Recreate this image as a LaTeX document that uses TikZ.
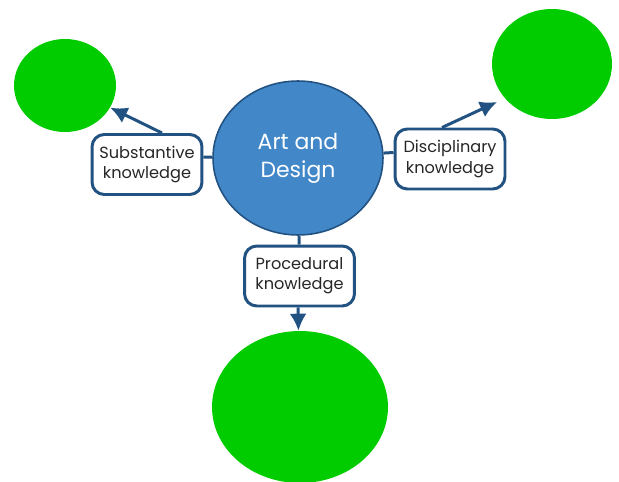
\documentclass[tikz,border=0pt]{standalone}
\usepackage{fontspec}
\setmainfont{Poppins}
\usetikzlibrary{shapes.geometric,arrows.meta}
\definecolor{artblue}{RGB}{66,135,200}
\definecolor{linkblue}{RGB}{34,82,130}
\definecolor{blobgreen}{RGB}{0,204,0}

\begin{document}
\begin{tikzpicture}[x = 0.02cm, y = 0.02cm,
  blob/.style = {ellipse, fill = blobgreen, inner sep = 0pt},
  kbox/.style = {draw = linkblue, line width = 1.7pt, rounded corners = 7pt, fill = white,
    minimum width = 2.2cm, minimum height = 1.2cm, align = center, inner sep = 2pt,
    font = \fontsize{9.2}{11.5}\selectfont, text = black!85},
  link/.style = {draw = linkblue, line width = 1.7pt},
  arr/.style = {link, -{Latex[length = 3.4mm, width = 3.4mm]}}]
\useasboundingbox (0, 0) rectangle (619, 481);
%\draw [very thin, color = gray] (0, 0) grid [step = 50] (619, 481);
\node [blob, minimum width = 2.04cm, minimum height = 1.86cm] (substantive) at (65, 395.5) {};
\node [blob, minimum width = 2.4cm, minimum height = 2.2cm] (disciplinary) at (552, 417) {};
\node [blob, minimum width = 3.52cm, minimum height = 3.04cm] (procedural) at (300, 74) {};
\node [ellipse, draw = linkblue, line width = 0.9pt, fill = artblue, inner sep = 0pt,
  minimum width = 3.4cm, minimum height = 3.08cm, align = center, text = white,
  font = \fontsize{12.5}{16}\selectfont] (art) at (298, 323) {Art and\\Design};
\node [kbox] (subbox) at (147, 316.5) {Substantive\\knowledge};
\node [kbox] (discbox) at (450, 322) {Disciplinary\\knowledge};
\node [kbox] (procbox) at (299.5, 205) {Procedural\\knowledge};
\coordinate (disctip) at (497, 379);
% links from the centre
\draw [link] ([yshift = 0.15cm] subbox.east) -- (art);
\draw [link] ([yshift = 0.13cm] discbox.west) -- (art);
\draw [link] (art) -- (procbox);
% arrows out to the blobs
\draw [arr] ([xshift = 0.3cm] subbox.north) -- (substantive);
\draw [arr] ([xshift = -0.16cm] discbox.north) -- (disctip);
\draw [arr] ([xshift = -0.03cm] procbox.south) -- (procedural);
\end{tikzpicture}
\end{document}
